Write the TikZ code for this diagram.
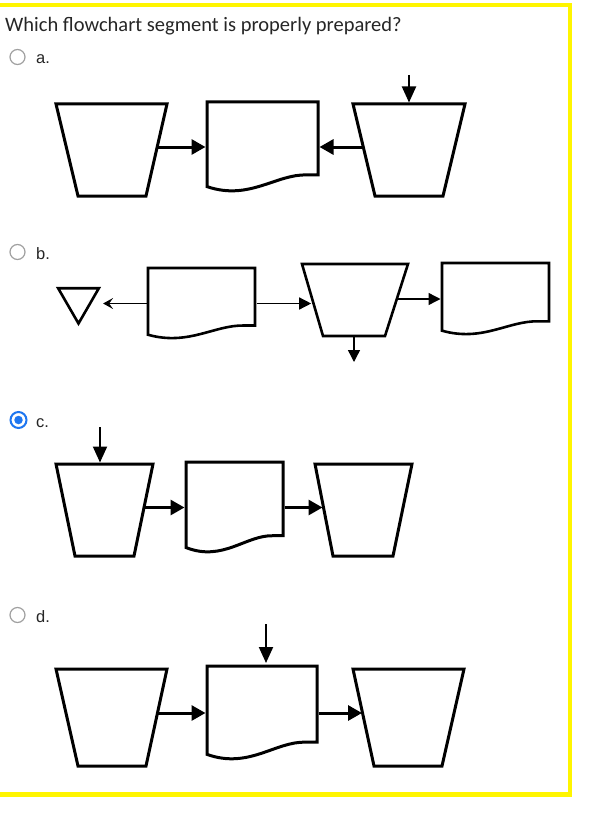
\documentclass[tikz,border=0pt]{standalone}
\usepackage{fontspec}
\newfontfamily\qfont{Carlito}
\newfontfamily\lfont{Liberation Sans}
\usetikzlibrary{shapes.geometric,arrows.meta,calc}
\definecolor{frameyellow}{RGB}{255,245,0}
\definecolor{radblue}{RGB}{30,118,240}
\definecolor{radgray}{RGB}{160,160,160}
% #1 name, #2 left, #3 top, #4 width, #5 height, #6 line style
\newcommand\DocNode[6]{%
  \node[docbox, minimum width=#4pt, minimum height=#5pt] (#1) at ({#2+#4/2},{#3+#5/2}) {};
  \draw[#6] ({#2},{#3+0.94*#5}) -- ({#2},{#3}) -- ({#2+#4},{#3}) -- ({#2+#4},{#3+0.81*#5})
    -- ({#2+0.9*#4},{#3+0.81*#5})
    .. controls ({#2+0.62*#4},{#3+0.8*#5}) and ({#2+0.38*#4},{#3+1.1*#5}) .. ({#2},{#3+0.94*#5}) -- cycle;
}
% #1 name, #2 top-left x, #3 top-right x, #4 bottom-left x, #5 bottom-right x, #6 top y, #7 bottom y, #8 style
\newcommand\TrapNode[8]{%
  \draw[#8] (#2,#6) -- (#3,#6) -- (#5,#7) -- (#4,#7) -- cycle;
  \coordinate (#1-n) at ({(#2+#3)/2},#6);
  \coordinate (#1-s) at ({(#4+#5)/2},#7);
  \coordinate (#1-e) at ({(#3+#5)/2},{(#6+#7)/2});
  \coordinate (#1-w) at ({(#2+#4)/2},{(#6+#7)/2});
}
\begin{document}
\begin{tikzpicture}[x=1pt,y=-1pt,
  docbox/.style={rectangle, draw=none, inner sep=0pt, outer sep=1.5pt},
  shp/.style={draw=black, line width=3pt, line join=miter},
  shpthin/.style={draw=black, line width=2.6pt, line join=miter},
  thickarr/.style={line width=3pt, -{Triangle[length=14pt,width=15pt]}},
  downarr/.style={line width=2pt, -{Triangle[length=16pt,width=14pt]}},
  thinarr/.style={line width=1.4pt, -{Triangle[length=12pt,width=12pt]}},
  openarr/.style={line width=1.4pt, -{Stealth[length=10pt,width=11pt,inset=4pt]}},
  radio/.style={circle, draw=radgray, line width=1.2pt, minimum size=15pt, inner sep=0pt},
  lab/.style={anchor=base west, inner sep=0pt, font=\lfont\fontsize{16.5}{19}\selectfont, text=black!85},
]
\useasboundingbox (0,0) rectangle (590,824);
\fill[white] (0,0) rectangle (590,824);
\draw[frameyellow, line width=4.5pt] (-5,5) rectangle (570,794.5);

% question
\node[anchor=base west, inner sep=0pt, font=\qfont\fontsize{20.5}{24}\selectfont, text=black!85] (q) at (5,32) {Which flowchart segment is properly prepared?};

% radio buttons and labels
\node[radio] (ra) at (17.5,57) {};
\node[lab] (la) at (36,64) {a.};
\node[radio] (rb) at (17.5,252) {};
\node[lab] (lb) at (36,259) {b.};
\node[circle, draw=radblue, line width=2pt, minimum size=16pt, inner sep=0pt] (rc) at (18.5,420) {};
\node[circle, fill=radblue, minimum size=8.5pt, inner sep=0pt] (rcdot) at (rc) {};
\node[lab] (lc) at (36,427) {c.};
\node[radio] (rd) at (17.5,615) {};
\node[lab] (ld) at (36,622) {d.};

% ---------- row a ----------
\TrapNode{a1}{56}{167}{78}{146}{104}{196}{shp}
\DocNode{a2}{207}{102}{111}{90}{shp}
\TrapNode{a3}{353}{465}{375}{443}{104}{196}{shp}
\draw[thickarr] (a1-e |- a2.west) -- (a2.west);
\draw[thickarr] (a3-w |- a2.east) -- (a2.east);
\coordinate (a3in) at (409,75);
\draw[downarr, shorten >=1.5pt] (a3in) -- (a3-n);

% ---------- row b ----------
\node[regular polygon, regular polygon sides=3, shape border rotate=180, minimum size=47pt,
  draw=black, line width=2.6pt, inner sep=0pt, line join=miter] (tri) at (78.5,300) {};
\DocNode{b1}{148}{268}{107}{71}{shpthin}
\TrapNode{b2}{302}{408}{323}{385}{264}{336}{shpthin}
\DocNode{b3}{442}{263}{107}{72}{shpthin}
\path ([xshift=2pt]tri.corner 2) coordinate (tr2);
\draw[openarr] (b1.west) -- (tr2 |- b1.west);
\draw[thinarr, shorten >=1.3pt] (b1.east) -- (b2-w |- b1.east);
\draw[thinarr] (b2-e |- b3.west) -- (b3.west);
\coordinate (b2out) at (354,362);
\draw[thinarr] (b2-s) -- (b2out);

% ---------- row c ----------
\TrapNode{c1}{56}{153}{75}{134}{464}{556}{shp}
\DocNode{c2}{186}{462}{97}{91}{shp}
\TrapNode{c3}{315}{412}{333}{393}{464}{556}{shp}
\draw[thickarr] (c1-e |- c2.west) -- (c2.west);
\draw[thickarr, shorten >=1.5pt] (c2.east) -- (c3-w |- c2.east);
\coordinate (c1in) at (100,427);
\draw[downarr, shorten >=1.5pt] (c1in) -- (c1in |- c1-n);

% ---------- row d ----------
\TrapNode{d1}{56}{167}{78}{146}{669}{766}{shp}
\DocNode{d2}{207}{666}{110}{94}{shp}
\TrapNode{d3}{353}{464}{374}{442}{669}{766}{shp}
\draw[thickarr] (d1-e |- d2.west) -- (d2.west);
\draw[thickarr, shorten >=1.5pt] (d2.east) -- (d3-w |- d2.east);
\coordinate (d2in) at (266,624);
\draw[downarr, shorten >=1.5pt] (d2in) -- (d2in |- d2.north);
\end{tikzpicture}
\end{document}
